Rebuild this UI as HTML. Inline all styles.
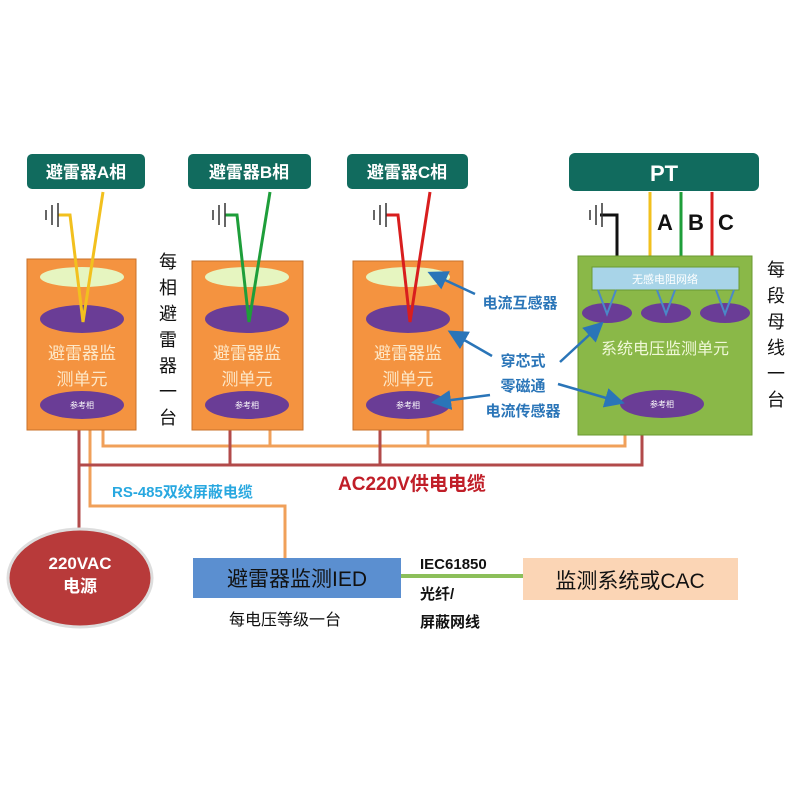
<!DOCTYPE html>
<html><head><meta charset="utf-8"><style>
body{margin:0;background:#fff;}
svg text{font-family:"Liberation Sans","Noto Sans CJK SC",sans-serif;}
</style></head><body>
<svg width="800" height="800" viewBox="0 0 800 800" xmlns="http://www.w3.org/2000/svg">
<defs><marker id="ar" markerWidth="8" markerHeight="8" refX="6" refY="4" orient="auto"><path d="M0,0 L8,4 L0,8 z" fill="#2a75b8"/></marker></defs>
<g font-weight="bold" fill="#fff" font-size="17">
<rect x="27" y="154" width="118" height="35" rx="5" fill="#116b5e"/><text x="86" y="178" text-anchor="middle">避雷器A相</text>
<rect x="188" y="154" width="123" height="35" rx="5" fill="#116b5e"/><text x="249" y="178" text-anchor="middle">避雷器B相</text>
<rect x="347" y="154" width="121" height="35" rx="5" fill="#116b5e"/><text x="407" y="178" text-anchor="middle">避雷器C相</text>
<rect x="569" y="153" width="190" height="38" rx="6" fill="#116b5e"/><text x="664" y="181" text-anchor="middle" font-size="22">PT</text>
</g>
<g fill="none" stroke-width="3">
<path d="M103 430V446H625V435 M270 430V446 M428 430V446" stroke="#f0a05a"/>
<path d="M90 430V506H285V558" stroke="#f0a05a"/>
<path d="M79 430V530 M79 465H642V435 M230 430V465 M380 430V465" stroke="#b24a4a"/>
<path d="M401 576H523" stroke="#8cbf5a" stroke-width="4"/>
</g>
<g font-size="17" fill="#fde8c8" text-anchor="middle">
<rect x="27" y="259" width="109" height="171" fill="#f49340" stroke="#c8702a"/>
<rect x="192" y="261" width="111" height="169" fill="#f49340" stroke="#c8702a"/>
<rect x="353" y="261" width="110" height="169" fill="#f49340" stroke="#c8702a"/>
<ellipse cx="82" cy="277" rx="42" ry="10" fill="#e6f5c0"/><ellipse cx="247" cy="277" rx="42" ry="10" fill="#e6f5c0"/><ellipse cx="408" cy="277" rx="42" ry="10" fill="#e6f5c0"/>
<ellipse cx="82" cy="319" rx="42" ry="14" fill="#6a3d96"/><ellipse cx="247" cy="319" rx="42" ry="14" fill="#6a3d96"/><ellipse cx="408" cy="319" rx="42" ry="14" fill="#6a3d96"/>
<ellipse cx="82" cy="405" rx="42" ry="14" fill="#6a3d96"/><ellipse cx="247" cy="405" rx="42" ry="14" fill="#6a3d96"/><ellipse cx="408" cy="405" rx="42" ry="14" fill="#6a3d96"/>
<text x="82" y="359">避雷器监</text><text x="82" y="385">测单元</text>
<text x="247" y="359">避雷器监</text><text x="247" y="385">测单元</text>
<text x="408" y="359">避雷器监</text><text x="408" y="385">测单元</text>
<g font-size="8" fill="#fff"><text x="82" y="408">参考相</text><text x="247" y="408">参考相</text><text x="408" y="408">参考相</text></g>
</g>
<g fill="none" stroke-width="3">
<path d="M58 215H70L83 322L103 192" stroke="#f2c01e"/>
<path d="M225 215H237L249 322L270 192" stroke="#1e9e3a"/>
<path d="M386 215H398L410 322L430 192" stroke="#d81e1e"/>
<path d="M600 215H617V268" stroke="#111"/>
<path d="M650 192V266" stroke="#f2c01e"/><path d="M681 192V266" stroke="#1e9e3a"/><path d="M712 192V266" stroke="#d81e1e"/>
</g>
<g stroke="#333" stroke-width="1.5">
<path d="M46 210V220M52 205V225M58 203V227"/><path d="M213 210V220M219 205V225M225 203V227"/><path d="M374 210V220M380 205V225M386 203V227"/><path d="M590 210V220M596 205V225M602 203V227"/>
</g>
<g font-size="22" font-weight="bold" fill="#111"><text x="657" y="230">A</text><text x="688" y="230">B</text><text x="718" y="230">C</text></g>
<rect x="578" y="256" width="174" height="179" fill="#8ab848" stroke="#6a9a30"/>
<rect x="592" y="267" width="147" height="23" fill="#a8d4e8" stroke="#6a9a30"/>
<text x="665" y="283" font-size="11" fill="#fff" text-anchor="middle">无感电阻网络</text>
<ellipse cx="607" cy="313" rx="25" ry="10" fill="#6a3d96"/><ellipse cx="666" cy="313" rx="25" ry="10" fill="#6a3d96"/><ellipse cx="725" cy="313" rx="25" ry="10" fill="#6a3d96"/>
<g fill="none" stroke="#4a88c8" stroke-width="2"><path d="M598 290L607 314L616 290M657 290L666 314L675 290M716 290L725 314L734 290"/></g>
<text x="665" y="354" font-size="16" fill="#f0f8d8" text-anchor="middle">系统电压监测单元</text>
<ellipse cx="662" cy="404" rx="42" ry="14" fill="#6a3d96"/>
<text x="662" y="407" font-size="8" fill="#fff" text-anchor="middle">参考相</text>
<g font-size="15" font-weight="bold" fill="#2a75b8" text-anchor="middle">
<text x="520" y="308">电流互感器</text><text x="523" y="366">穿芯式</text><text x="523" y="391">零磁通</text><text x="523" y="416">电流传感器</text>
</g>
<g stroke="#2a75b8" stroke-width="2.5" fill="none" marker-end="url(#ar)">
<path d="M475 294L432 274"/><path d="M492 356L452 333"/><path d="M490 395L436 402"/><path d="M560 362L600 325"/><path d="M558 384L620 402"/>
</g>
<g font-size="18" fill="#111" text-anchor="middle"><text x="168" y="268">每</text><text x="168" y="294">相</text><text x="168" y="320">避</text><text x="168" y="346">雷</text><text x="168" y="372">器</text><text x="168" y="398">一</text><text x="168" y="424">台</text>
<text x="776" y="276">每</text><text x="776" y="302">段</text><text x="776" y="328">母</text><text x="776" y="354">线</text><text x="776" y="380">一</text><text x="776" y="406">台</text></g>
<text x="338" y="490" font-size="19" font-weight="bold" fill="#c01e28">AC220V供电电缆</text>
<text x="112" y="497" font-size="15" font-weight="bold" fill="#28a8e0">RS-485双绞屏蔽电缆</text>
<ellipse cx="80" cy="578" rx="72" ry="49" fill="#b83a3a" stroke="#ddd" stroke-width="3"/>
<text x="80" y="569" font-size="17" font-weight="bold" fill="#fff" text-anchor="middle">220VAC</text>
<text x="80" y="592" font-size="17" font-weight="bold" fill="#fff" text-anchor="middle">电源</text>
<rect x="193" y="558" width="208" height="40" fill="#5b8fd0"/>
<text x="297" y="586" font-size="21" fill="#111" text-anchor="middle">避雷器监测IED</text>
<text x="285" y="625" font-size="16" fill="#111" text-anchor="middle">每电压等级一台</text>
<text x="420" y="569" font-size="15" font-weight="bold" fill="#111">IEC61850</text>
<text x="420" y="599" font-size="15" font-weight="bold" fill="#111">光纤/</text>
<text x="420" y="627" font-size="15" font-weight="bold" fill="#111">屏蔽网线</text>
<rect x="523" y="558" width="215" height="42" fill="#fbd5b5"/>
<text x="630" y="588" font-size="21" fill="#111" text-anchor="middle">监测系统或CAC</text>
</svg>
</body></html>
